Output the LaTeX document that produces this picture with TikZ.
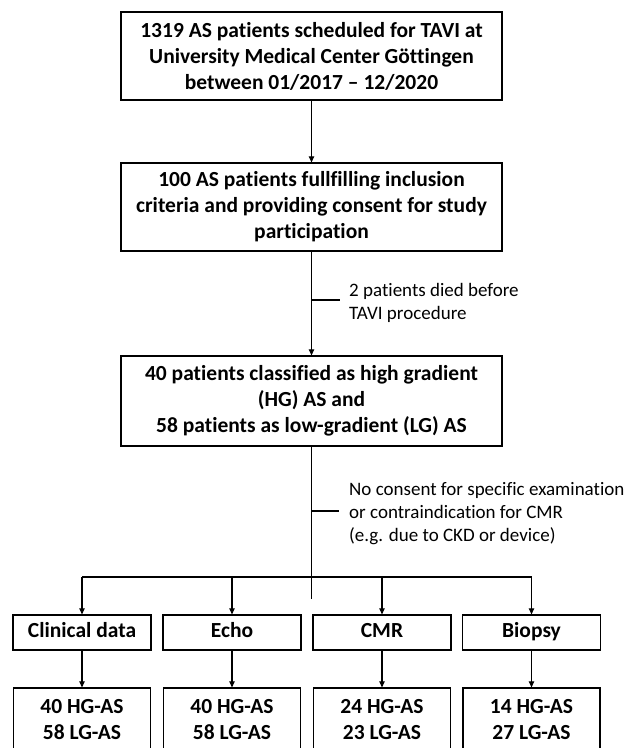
\documentclass[tikz,border=0pt]{standalone}
\usepackage{fontspec}
\setmainfont{Carlito}[Ligatures={NoCommon}]
\usetikzlibrary{arrows.meta}
\begin{document}
\begin{tikzpicture}[x=1pt,y=-1pt,
  box/.style={draw, line width=1.3pt, inner sep=0pt, align=center, font=\fontsize{21.5}{26}\selectfont\bfseries},
  small/.style={box, minimum width=138pt, minimum height=35pt, text height=14.5pt, text depth=4.5pt},
  res/.style={box, minimum width=137pt, minimum height=64pt},
  note/.style={inner sep=0pt, align=left, anchor=west, font=\fontsize{19}{23.3}\selectfont},
  conn/.style={line width=1.1pt},
  arr/.style={conn, -{Triangle[length=6pt,width=5.5pt]}}]
\clip (0,0) rectangle (632,748);
\fill[white] (0,0) rectangle (632,748);
% main boxes
\node[box, minimum width=381pt, minimum height=88pt] (b1) at (311.5,56)
  {1319 AS patients scheduled for TAVI at\\University Medical Center Göttingen\\between 01/2017 – 12/2020};
\node[box, minimum width=381pt, minimum height=88pt] (b2) at (311.5,207)
  {100 AS patients fullfilling inclusion\\criteria and providing consent for study\\participation};
\node[box, minimum width=381pt, minimum height=90pt] (b3) at (311.5,401)
  {40 patients classified as high gradient\\(HG) AS and\\58 patients as low-gradient (LG) AS};
% notes
\node[note] (n1) at (349,303) {2 patients died before\\TAVI procedure};
\node[note] (n2) at (349,513.5) {No consent for specific examination\\or contraindication for CMR\\(e.g. due to CKD or device)};
\coordinate (j1) at (340,300);
\coordinate (j2) at (339,511);
% row 1
\node[small] (c1) at (82,632.5) {Clinical data};
\node[small] (c2) at (232,632.5) {Echo};
\node[small] (c3) at (382,632.5) {CMR};
\node[small] (c4) at (531.5,632.5) {Biopsy};
% row 2
\node[res] (d1) at (82,720) {40 HG-AS\\58 LG-AS};
\node[res] (d2) at (232,720) {40 HG-AS\\58 LG-AS};
\node[res] (d3) at (382,720) {24 HG-AS\\23 LG-AS};
\node[res] (d4) at (531.5,720) {14 HG-AS\\27 LG-AS};
% connectors
\coordinate (bus) at (311.5,577);
\coordinate (tend) at (311.5,599);
\draw[arr] (b1) -- (b2);
\draw[arr] (b2) -- (b3);
\draw[conn] (b2.south |- j1) -- (j1);
\draw[conn] (b3.south) -- (tend);
\draw[conn] (b3.south |- j2) -- (j2);
\draw[conn] (c1.north |- bus) -- (c4.north |- bus);
\foreach \i in {1,2,3,4}{
  \draw[arr] (c\i.north |- bus) -- (c\i.north);
  \draw[arr] (c\i) -- (d\i);
}
\end{tikzpicture}
\end{document}
